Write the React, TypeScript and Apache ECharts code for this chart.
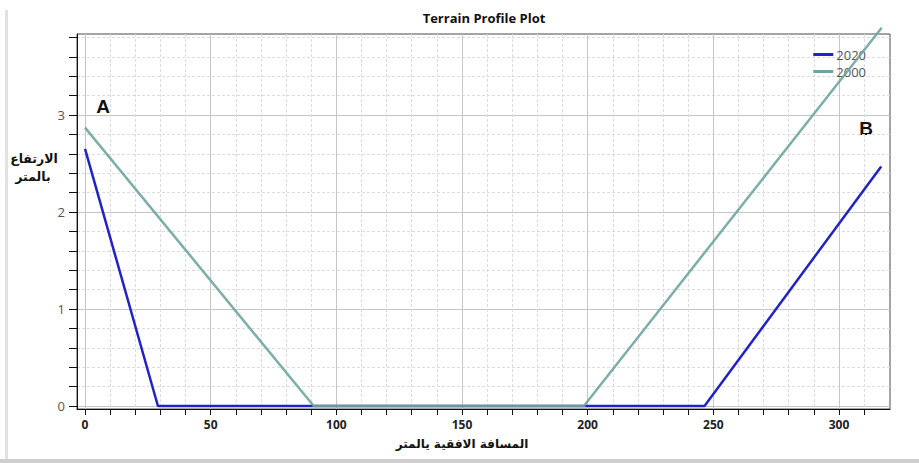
import React, { useEffect, useRef } from "react";
import * as echarts from "echarts";

// Terrain profile: distance (m) vs. elevation (m) for two survey years
const dist2020 = [0, 29, 246.5, 316.8];
const elev2020 = [2.65, 0, 0, 2.47];
const dist2000 = [0, 91, 198.5, 317];
const elev2000 = [2.87, 0, 0, 3.9];

const xTicks = [0, 10, 20, 30, 40, 50, 60, 70, 80, 90, 100, 110, 120, 130, 140, 150, 160, 170, 180, 190, 200, 210, 220, 230, 240, 250, 260, 270, 280, 290, 300, 310];
const xLabels = [0, 50, 100, 150, 200, 250, 300];
const yTicks = [0, 0.2, 0.4, 0.6, 0.8, 1, 1.2, 1.4, 1.6, 1.8, 2, 2.2, 2.4, 2.6, 2.8, 3, 3.2, 3.4, 3.6, 3.8];
const yLabels = [0, 1, 2, 3];

const X_MIN = -3.2;
const X_MAX = 320.3;
const Y_MIN = -0.031;
const Y_MAX = 3.835;

const ARABIC_FONT = "'DejaVu Sans', sans-serif";

export default function App() {
  const ref = useRef<HTMLDivElement>(null);

  useEffect(() => {
    if (!ref.current) return;
    const chart = echarts.init(ref.current, undefined, { renderer: "svg" });

    const pts = (xs: number[], ys: number[]) => xs.map((x, i) => [x, ys[i]]);

    chart.setOption({
      animation: false,
      backgroundColor: "#ffffff",
      grid: {
        left: 77,
        right: 29,
        top: 34,
        bottom: 54,
        show: true,
        borderColor: "#4a4a4a",
        borderWidth: 1,
        backgroundColor: "transparent",
      },
      legend: {
        orient: "vertical",
        right: 48,
        top: 43,
        itemWidth: 20,
        itemHeight: 3,
        itemGap: 4,
        icon: "rect",
        textStyle: {
          color: "#555",
          fontSize: 13,
          lineHeight: 12,
          fontFamily: "'Open Sans', sans-serif",
          padding: [0, 0, 0, -2],
        },
        data: ["2020", "2000"],
      },
      xAxis: [
        {
          type: "value",
          min: X_MIN,
          max: X_MAX,
          position: "bottom",
          axisLine: { show: true, onZero: false, lineStyle: { color: "#111", width: 1 } },
          axisTick: { show: true, length: 6, customValues: xTicks, lineStyle: { color: "#111" } },
          axisLabel: {
            customValues: xLabels,
            color: "#222",
            fontSize: 12,
            fontWeight: "bold",
            fontFamily: "'Open Sans', sans-serif",
            margin: 9,
          },
          splitLine: { show: true, lineStyle: { color: "#dcdcdc", type: [3, 2], width: 1 } },
        },
        {
          type: "value",
          min: X_MIN,
          max: X_MAX,
          position: "bottom",
          axisLine: { show: false },
          axisTick: { show: false, customValues: xLabels },
          axisLabel: { show: false, customValues: xLabels },
          splitLine: { show: true, lineStyle: { color: "#c6c6c6", type: "solid", width: 1 } },
        },
      ],
      yAxis: [
        {
          type: "value",
          min: Y_MIN,
          max: Y_MAX,
          position: "left",
          axisLine: { show: true, onZero: false, lineStyle: { color: "#111", width: 1 } },
          axisTick: { show: true, length: 8, customValues: yTicks, lineStyle: { color: "#111" } },
          axisLabel: {
            customValues: yLabels,
            color: "#555",
            fontSize: 13,
            fontFamily: "'Open Sans', sans-serif",
            margin: 12,
          },
          splitLine: { show: true, lineStyle: { color: "#dcdcdc", type: [3, 2], width: 1 } },
        },
        {
          type: "value",
          min: Y_MIN,
          max: Y_MAX,
          position: "left",
          axisLine: { show: false },
          axisTick: { show: false, customValues: yLabels },
          axisLabel: { show: false, customValues: yLabels },
          splitLine: { show: true, lineStyle: { color: "#c6c6c6", type: "solid", width: 1 } },
        },
      ],
      series: [
        {
          name: "2020",
          type: "line",
          xAxisIndex: 0,
          yAxisIndex: 0,
          data: pts(dist2020, elev2020),
          symbol: "none",
          clip: false,
          color: "#2323c4",
          lineStyle: { color: "#2323c4", width: 2.5 },
          z: 3,
        },
        {
          name: "2000",
          type: "line",
          xAxisIndex: 0,
          yAxisIndex: 0,
          data: pts(dist2000, elev2000),
          symbol: "none",
          clip: false,
          color: "#6fa5a0",
          lineStyle: { color: "#6fa5a0", width: 2.5, opacity: 0.9 },
          z: 4,
        },
      ],
      graphic: [
        // page frame
        { type: "rect", left: 5, top: 10, shape: { width: 3, height: 450 }, style: { fill: "#e2e2e2" }, silent: true },
        { type: "rect", left: 0, top: 459, shape: { width: 919, height: 4 }, style: { fill: "#cfcfcf" }, silent: true },
        {
          type: "text",
          x: 484,
          y: 18,
          style: {
            text: "Terrain Profile Plot",
            fill: "#111",
            font: "bold 13px 'Open Sans', sans-serif",
            align: "center",
            verticalAlign: "middle",
          },
        },
        {
          type: "text",
          x: 34,
          y: 158,
          style: { text: "الارتفاع", fill: "#111", font: `bold 12.5px ${ARABIC_FONT}`, align: "center", verticalAlign: "middle" },
        },
        {
          type: "text",
          x: 33,
          y: 176,
          style: { text: "بالمتر", fill: "#111", font: `bold 12.5px ${ARABIC_FONT}`, align: "center", verticalAlign: "middle" },
        },
        {
          type: "text",
          x: 462,
          y: 444,
          style: { text: "المسافة الافقية يالمتر", fill: "#111", font: `bold 12px ${ARABIC_FONT}`, align: "center", verticalAlign: "middle" },
        },
        {
          type: "text",
          x: 103,
          y: 106,
          style: { text: "A", fill: "#111", font: "bold 19px 'Liberation Sans', sans-serif", align: "center", verticalAlign: "middle" },
        },
        {
          type: "text",
          x: 866,
          y: 128,
          style: { text: "B", fill: "#111", font: "bold 19px 'Liberation Sans', sans-serif", align: "center", verticalAlign: "middle" },
        },
      ],
    });

    return () => chart.dispose();
  }, []);

  return <div ref={ref} style={{ width: 919, height: 463, position: "absolute", left: 0, top: 0 }} />;
}
